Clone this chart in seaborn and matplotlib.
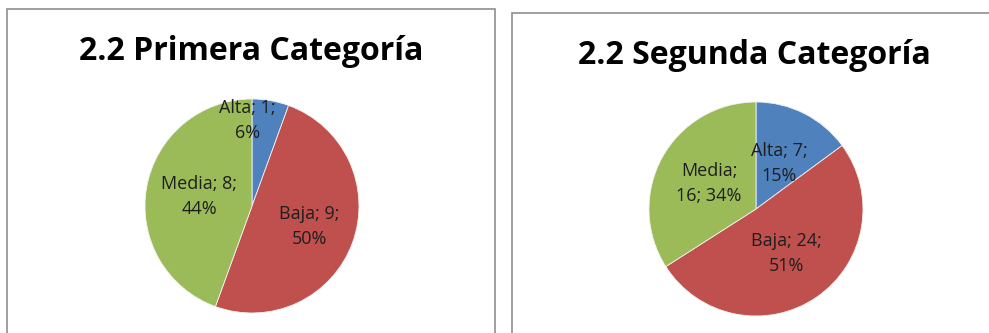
import numpy as np
import matplotlib
matplotlib.use("Agg")
import matplotlib.pyplot as plt
from matplotlib.patches import Rectangle
import seaborn as sns

# Data
categories = ["Alta", "Baja", "Media"]
primera_values = [1, 9, 8]
segunda_values = [7, 24, 16]
primera_pct = ["6%", "50%", "44%"]
segunda_pct = ["15%", "51%", "34%"]
titles = ["2.2 Primera Categoría", "2.2 Segunda Categoría"]

sns.set_theme(style="white")
plt.rcParams["font.family"] = ["Open Sans", "DejaVu Sans"]

colors = ["#4F81BD", "#C0504D", "#9BBB59"]

W, H = 989, 333
fig = plt.figure(figsize=(W / 100, H / 100), dpi=100)
fig.patch.set_facecolor("white")

# Panel frames (x0, y_top, x1) in pixels
frames = [(7, 9, 495), (512, 13, 1000)]
for x0, yt, x1 in frames:
    fig.add_artist(Rectangle((x0 / W, -0.1), (x1 - x0) / W, (H - yt) / H + 0.1,
                             transform=fig.transFigure, fill=False,
                             edgecolor="#8f8f8f", linewidth=1.2))

# Pie centres and radius in pixels
centres = [(252, 206), (756, 209)]
radius_px = 107
title_pos = [(251, 52), (754, 55)]

# Label placement: (distance fraction, angle offset in degrees)
label_place = [
    [(0.80, 13), (0.57, 0), (0.5, 0)],
    [(0.48, 0), (0.51, 0), (0.5, 0)],
]


def label_lines(values, pcts, split_after_name):
    out = []
    for name, v, p in zip(categories, values, pcts):
        if name in split_after_name:
            out.append(f"{name};\n{v}; {p}")
        else:
            out.append(f"{name}; {v};\n{p}")
    return out


label_texts = [
    label_lines(primera_values, primera_pct, ()),
    label_lines(segunda_values, segunda_pct, ("Media",)),
]

for i, vals in enumerate([primera_values, segunda_values]):
    cx, cy = centres[i]
    ax = fig.add_axes([(cx - radius_px) / W, (H - cy - radius_px) / H,
                       2 * radius_px / W, 2 * radius_px / H])
    wedges, _ = ax.pie(vals, colors=colors, startangle=90, counterclock=False,
                       radius=1.0, wedgeprops=dict(edgecolor="#f2f2f2", linewidth=0.6))
    ax.set_xlim(-1, 1)
    ax.set_ylim(-1, 1)
    ax.set_aspect("equal")
    ax.axis("off")
    for w, txt, (dist, off) in zip(wedges, label_texts[i], label_place[i]):
        ang = np.deg2rad((w.theta1 + w.theta2) / 2 + off)
        ax.text(dist * np.cos(ang), dist * np.sin(ang), txt, ha="center", va="center",
                fontsize=13, color="#1e1e1e", linespacing=1.5)
    tx, ty = title_pos[i]
    fig.text(tx / W, 1 - ty / H, titles[i], ha="center", va="center",
             fontsize=23, fontweight="bold", color="#000000")

fig.savefig("out.png", dpi=100, facecolor="white")
